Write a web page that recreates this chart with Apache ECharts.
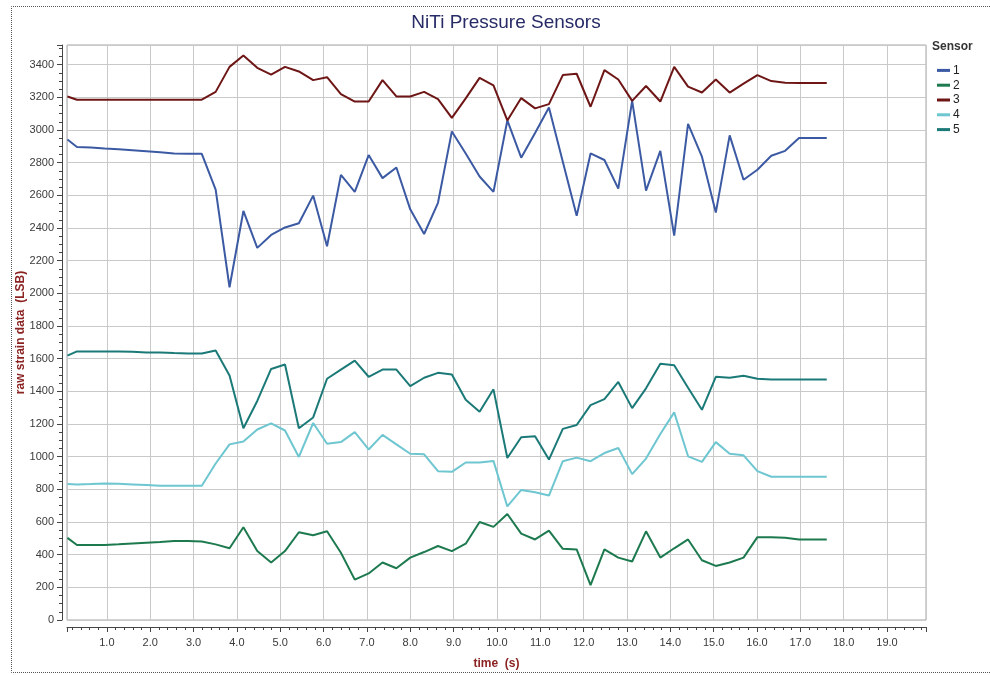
<!DOCTYPE html>
<html>
<head>
<meta charset="utf-8">
<title>NiTi Pressure Sensors</title>
<script src="https://cdn.jsdelivr.net/npm/echarts@6/dist/echarts.min.js"></script>
<style>
  html, body { margin: 0; padding: 0; background: #ffffff; }
  #chart { width: 990px; height: 675px; }
</style>
</head>
<body>
<div id="chart"></div>
<script>
// Sample times (s), shared by all five sensors
const times = [0.09, 0.31, 0.63, 0.95, 1.27, 1.59, 1.91, 2.23, 2.55, 2.87,
  3.19, 3.51, 3.83, 4.15, 4.47, 4.79, 5.11, 5.43, 5.76, 6.08,
  6.40, 6.72, 7.04, 7.36, 7.68, 8.00, 8.32, 8.64, 8.96, 9.28,
  9.60, 9.92, 10.24, 10.56, 10.88, 11.20, 11.52, 11.84, 12.16, 12.48,
  12.80, 13.12, 13.44, 13.77, 14.09, 14.41, 14.73, 15.05, 15.37, 15.69,
  16.01, 16.33, 16.65, 16.97, 17.29, 17.61];

// Raw strain readings (LSB) per sensor
const sensor1 = [2941, 2896, 2892, 2886, 2882, 2876, 2870, 2864, 2856, 2854,
  2854, 2635, 2037, 2504, 2278, 2357, 2403, 2429, 2598, 2288,
  2725, 2621, 2846, 2705, 2770, 2514, 2363, 2554, 2991, 2856,
  2715, 2621, 3058, 2830, 2981, 3138, 2806, 2474, 2856, 2816,
  2641, 3178, 2629, 2872, 2353, 3037, 2836, 2494, 2967, 2695,
  2756, 2842, 2872, 2951, 2951, 2951];
const sensor2 = [503, 459, 459, 459, 463, 469, 473, 477, 483, 483,
  481, 463, 439, 568, 422, 352, 422, 537, 519, 543,
  412, 247, 285, 352, 317, 382, 416, 453, 422, 467,
  600, 570, 649, 529, 493, 547, 436, 432, 214, 432,
  382, 358, 543, 382, 439, 493, 366, 331, 352, 382,
  507, 507, 503, 493, 493, 493];
const sensor3 = [3205, 3185, 3185, 3185, 3185, 3185, 3185, 3185, 3185, 3185,
  3185, 3233, 3386, 3456, 3380, 3339, 3386, 3358, 3305, 3323,
  3219, 3174, 3174, 3305, 3205, 3205, 3233, 3189, 3074, 3193,
  3319, 3273, 3058, 3195, 3132, 3158, 3336, 3344, 3142, 3366,
  3309, 3178, 3269, 3174, 3386, 3265, 3229, 3309, 3229, 3283,
  3336, 3299, 3289, 3287, 3287, 3287];
const sensor4 = [832, 830, 832, 836, 834, 830, 826, 822, 822, 822,
  822, 958, 1075, 1093, 1166, 1204, 1160, 998, 1206, 1079,
  1089, 1150, 1044, 1133, 1075, 1018, 1014, 911, 907, 964,
  964, 974, 695, 796, 782, 762, 972, 994, 972, 1022,
  1053, 893, 988, 1139, 1271, 1002, 968, 1089, 1018, 1008,
  911, 877, 877, 877, 877, 877];
const sensor5 = [1618, 1644, 1644, 1644, 1644, 1642, 1638, 1638, 1634, 1632,
  1632, 1650, 1497, 1174, 1341, 1537, 1564, 1174, 1240, 1477,
  1533, 1588, 1489, 1533, 1533, 1432, 1483, 1513, 1503, 1348,
  1275, 1412, 992, 1119, 1125, 982, 1170, 1194, 1315, 1352,
  1457, 1297, 1418, 1568, 1560, 1422, 1287, 1489, 1483, 1495,
  1477, 1473, 1473, 1473, 1473, 1473];

const sensorNames = ['1', '2', '3', '4', '5'];
const sensorValues = [sensor1, sensor2, sensor3, sensor4, sensor5];
const sensorColors = ['#3c5aa3', '#1d7a4f', '#6e1616', '#6ec6d1', '#1b7a78'];

const FONT = "'Liberation Sans', Arial, sans-serif";
const AXIS_RED = '#8b2323';

const chart = echarts.init(document.getElementById('chart'), null, { renderer: 'canvas' });

const series = sensorNames.map((name, k) => ({
  name: name,
  type: 'line',
  data: times.map((t, i) => [t, sensorValues[k][i]]),
  showSymbol: false,
  symbol: 'none',
  color: sensorColors[k],
  lineStyle: { width: 2, color: sensorColors[k] },
  emphasis: { disabled: true },
  animation: false
}));

chart.setOption({
  animation: false,
  backgroundColor: '#ffffff',
  title: {
    text: 'NiTi Pressure Sensors',
    left: 501,
    top: 8,
    textAlign: 'center',
    textStyle: { fontFamily: FONT, fontSize: 19, fontWeight: 'normal', color: '#272b66' }
  },
  legend: {
    orient: 'vertical',
    left: 932,
    top: 58,
    icon: 'rect',
    itemWidth: 13,
    itemHeight: 3,
    itemGap: 0,
    data: sensorNames,
    textStyle: { fontFamily: FONT, fontSize: 12, color: '#222', lineHeight: 14.8, padding: [0, 0, 0, -2] },
    selectedMode: false
  },
  grid: {
    left: 67, top: 45, width: 859, height: 581,
    show: true,
    borderColor: '#a6a6a6',
    borderWidth: 1
  },
  xAxis: {
    type: 'value',
    min: 0.08,
    max: 19.9,
    splitNumber: 20,
    offset: 7,
    name: 'time  (s)',
    nameLocation: 'middle',
    nameGap: 31,
    nameMoveOverlap: false,
    nameTextStyle: { fontFamily: FONT, fontSize: 12, fontWeight: 'bold', color: AXIS_RED },
    axisLine: { show: true, onZero: false, lineStyle: { color: '#444', width: 1 } },
    axisTick: { show: true, length: 5, lineStyle: { color: '#444' } },
    minorTick: { show: true, splitNumber: 5, length: 3, lineStyle: { color: '#444' } },
    axisLabel: {
      showMinLabel: false,
      showMaxLabel: false,
      margin: 10,
      fontFamily: FONT, fontSize: 11, color: '#3a3a3a',
      formatter: v => v.toFixed(1)
    },
    splitLine: { show: true, lineStyle: { color: '#c9c9c9', width: 1 } }
  },
  yAxis: {
    type: 'value',
    min: 0,
    max: 3520,
    interval: 200,
    offset: 5,
    name: 'raw strain data  (LSB)',
    nameLocation: 'middle',
    nameGap: 35,
    nameRotate: 90,
    nameMoveOverlap: false,
    nameTextStyle: { fontFamily: FONT, fontSize: 12, fontWeight: 'bold', color: AXIS_RED },
    axisLine: { show: true, lineStyle: { color: '#444', width: 1 } },
    axisTick: { show: true, length: 5, lineStyle: { color: '#444' } },
    minorTick: { show: true, splitNumber: 4, length: 3, lineStyle: { color: '#444' } },
    axisLabel: {
      showMaxLabel: false,
      margin: 8,
      fontFamily: FONT, fontSize: 11, color: '#3a3a3a',
      formatter: v => String(v)
    },
    splitLine: { show: true, lineStyle: { color: '#c9c9c9', width: 1 } }
  },
  graphic: [
    // legend heading
    {
      type: 'text', left: 932, top: 41,
      style: { text: 'Sensor', font: 'bold 12px ' + FONT, fill: '#333' }
    },
    // dotted page frame
    {
      type: 'polyline', silent: true,
      shape: { points: [[990, 6.5], [11.5, 6.5], [11.5, 672.5], [990, 672.5]] },
      style: { stroke: '#555', lineWidth: 1, lineDash: [1, 1], fill: null }
    }
  ],
  series: series
});
</script>
</body>
</html>
